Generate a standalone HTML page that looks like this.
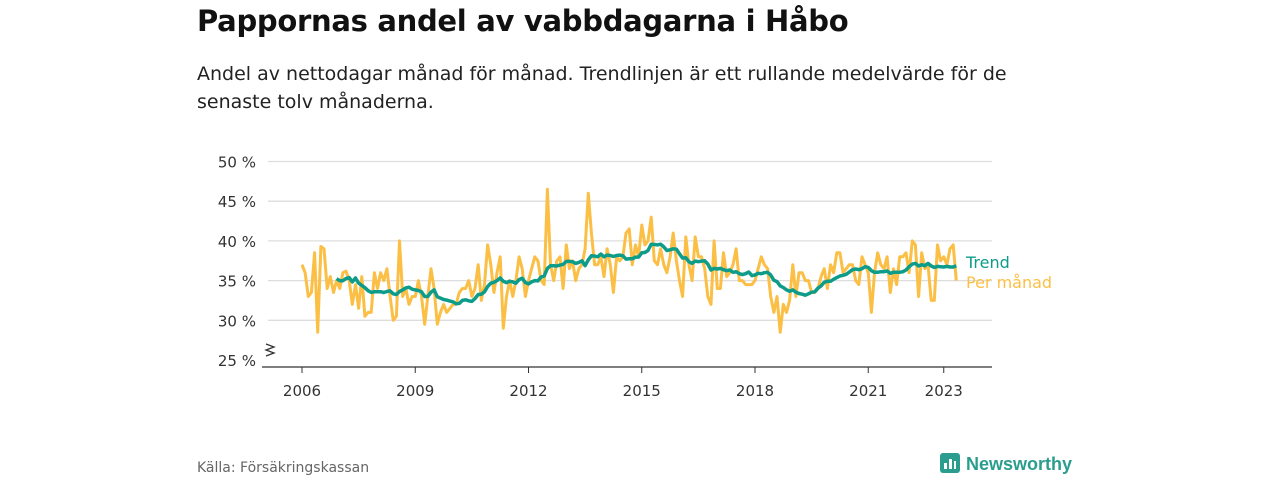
<!DOCTYPE html>
<html><head><meta charset="utf-8"><style>
body{margin:0;width:1280px;height:480px;background:#fff;font-family:"Liberation Sans","DejaVu Sans",sans-serif;overflow:hidden;position:relative}
.t{position:absolute;left:197px;top:4px;font-size:29px;font-weight:bold;color:#111;font-family:"DejaVu Sans",sans-serif;letter-spacing:-0.3px}
.s{position:absolute;left:197px;top:60px;width:880px;font-size:19px;line-height:28px;color:#222;font-family:"DejaVu Sans",sans-serif}
.f{position:absolute;left:197px;top:460px;font-size:14px;color:#666;font-family:"DejaVu Sans",sans-serif}
.logo{position:absolute;left:940px;top:453px;font-size:18px;font-weight:bold;color:#2a9d8f;font-family:"Liberation Sans",sans-serif}
</style></head><body>
<div class="t">Pappornas andel av vabbdagarna i Håbo</div>
<div class="s">Andel av nettodagar månad för månad. Trendlinjen är ett rullande medelvärde för de senaste tolv månaderna.</div>
<svg id="c" width="1280" height="480" style="position:absolute;left:0;top:0"></svg>
<div class="f">Källa: Försäkringskassan</div>
<div class="logo"><span style="display:inline-block;width:20px;height:20px;background:#2a9d8f;border-radius:3px;vertical-align:-3px;margin-right:6px;position:relative"><span style="position:absolute;left:4px;bottom:4px;width:3px;height:6px;background:#fff"></span><span style="position:absolute;left:9px;bottom:4px;width:3px;height:10px;background:#fff"></span><span style="position:absolute;left:14px;bottom:4px;width:2px;height:8px;background:#fff"></span></span>Newsworthy</div>
<script>
const yTicks=[25,30,35,40,45,50];
const xTickYears=[2006,2009,2012,2015,2018,2021,2023];
const monthly=[
37,36,33,33.5,38.5,28.5,39.3,39,34,35.5,33.5,35,
34,36,36.2,35,32,34.5,31.5,35.5,30.5,31,31,36,
34,36,35,36.5,33,30,30.5,40,33,34,32,33,
33,35,33,29.5,33,36.5,34,29.5,31,32,31,31.5,
32,32,33.5,34,34,35,33,34,37,32.5,34.5,39.5,
37,33.5,36,38,29,33,35,33,35,38,36.5,33,
35,36.5,38,37.5,35,34.5,46.5,37,35,37.5,38,34,
39.5,36.5,37.5,35,36.5,37,39,46,41,37,37,38,
35.5,39,37,33.5,38,37.5,38,41,41.5,37,39.5,38,
42,39.5,40,43,37.5,37,39,37,36,38,41,37.5,
35,33,40.5,37,35,40.5,38,38,36.5,33,32,40,
34,34,38.5,35.5,36,37,39,35,35,34.5,34.5,34.5,
35,36.5,38,37,36.5,33,31,33,28.5,32,31,32.5,
37,33,36,36,35,35,33.5,33.5,34,35.5,36.5,34,
37,36,38.5,38.5,36,36.5,37,37,35,34.5,38,37,
36,31,36,38.5,37,36.5,38,33.5,36.5,34.5,38,38,
38.5,36,40,39.5,33,38.5,36.5,37,32.5,32.5,39.5,37.5,
38,37,39,39.5,35];
const startYear=2006;
const X=t=>302+(t-2006)*37.75;
const Y=v=>360-(v-25)*7.94;
const svg=document.getElementById('c');const NS='http://www.w3.org/2000/svg';
function mk(tag,a,txt){const e=document.createElementNS(NS,tag);for(const k in a)e.setAttribute(k,a[k]);if(txt!=null)e.textContent=txt;svg.appendChild(e);return e;}
yTicks.forEach(v=>{
 if(v>25){const g=mk('line',{x1:268,x2:992,y1:Y(v),y2:Y(v),stroke:'#ddd','stroke-width':1.3});
 
 }
 const t=mk('text',{x:256,y:Y(v)+6,'text-anchor':'end','font-size':15,fill:'#333','font-family':'DejaVu Sans,sans-serif'},v+' %');
 
 
});
const ax=mk('line',{x1:262,x2:992,y1:367,y2:367,stroke:'#333','stroke-width':1.3});


const br=mk('path',{d:'M266 344 L274 347 L266 350 L274 353 L266 356',fill:'none',stroke:'#333','stroke-width':1.3});


xTickYears.forEach(y=>{
 const l=mk('line',{x1:X(y),x2:X(y),y1:367,y2:373,stroke:'#333'});
 
 
 const t=mk('text',{x:X(y),y:396,'text-anchor':'middle','font-size':15,fill:'#333','font-family':'DejaVu Sans,sans-serif'},y);
 
 
});
const tm=i=>startYear+i/12;
const mp=monthly.map((v,i)=>X(tm(i)).toFixed(1)+','+Y(v).toFixed(1)).join(' ');
const ml=mk('polyline',{points:mp,fill:'none',stroke:'#fbbf45','stroke-width':3,'stroke-linejoin':'round'});


const tp=[];
for(let i=11;i<monthly.length;i++){let s=0;for(let j=i-11;j<=i;j++)s+=monthly[j];tp.push(X(tm(i)).toFixed(1)+','+Y(s/12).toFixed(1));}
const tl=mk('polyline',{points:tp.join(' '),fill:'none',stroke:'#0d9b8a','stroke-width':3.5,'stroke-linejoin':'round'});


const l1=mk('text',{x:966,y:268,'font-size':16,fill:'#0d9b8a','font-family':'DejaVu Sans,sans-serif'},'Trend');


const l2=mk('text',{x:966,y:288,'font-size':16,fill:'#fbbf45','font-family':'DejaVu Sans,sans-serif'},'Per månad');


</script>
</body></html>
